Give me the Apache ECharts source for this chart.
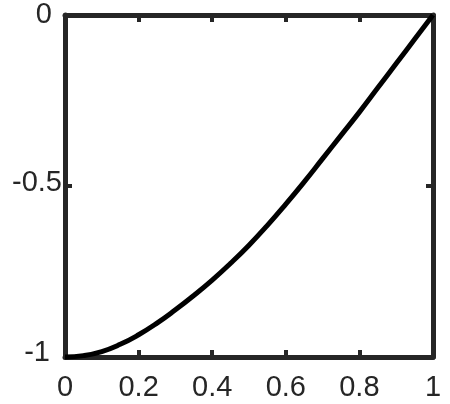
<!DOCTYPE html>
<html>
<head>
<meta charset="utf-8">
<script src="https://cdn.jsdelivr.net/npm/echarts@6/dist/echarts.min.js"></script>
<style>
	html, body { margin: 0; padding: 0; background: #fff; }
	#chart { width: 450px; height: 404px; }
</style>
</head>
<body>
<div id="chart"></div>
<script>
// values
var xs = [0, 0.05, 0.1, 0.15, 0.2, 0.25, 0.3, 0.35, 0.4, 0.45, 0.5,
	0.55, 0.6, 0.65, 0.7, 0.75, 0.8, 0.85, 0.9, 0.95, 1]
var ys = [-1, -0.996, -0.984, -0.963, -0.935, -0.901, -0.862, -0.82, -0.775, -0.726, -0.673,
	-0.615, -0.553, -0.488, -0.42, -0.352, -0.284, -0.213, -0.142, -0.071, 0]
var xTicks = [0, 0.2, 0.4, 0.6, 0.8, 1]
var yTicks = [-1, -0.5, 0]

var boxColor = '#262626'
var fontFam = '"Liberation Sans", Arial, sans-serif'
var fs = 29

var points = []
for (var i = 0; i < xs.length; i++) {
	points.push([xs[i], ys[i]])
}

// 四边框 + 内刻度
function boxAxis(extra) {
	var base = {
		type: 'value',
		axisLine: { show: true, onZero: false, lineStyle: { color: boxColor, width: 5 } },
		axisTick: { show: true, inside: true, length: 7, lineStyle: { color: boxColor, width: 4 } },
		splitLine: { show: false }
	}
	return Object.assign(base, extra)
}

var chart = echarts.init(document.getElementById('chart'))
chart.setOption({
	animation: false,
	grid: { left: 65, right: 17, top: 15, bottom: 47, containLabel: false },
	xAxis: [
		boxAxis({
			position: 'bottom', min: 0, max: 1, interval: 0.2,
			axisLabel: {
				margin: 16, color: boxColor, fontSize: fs, fontFamily: fontFam,
				formatter: function(v) { return xTicks.indexOf(+v.toFixed(1)) >= 0 ? String(+v.toFixed(1)) : '' }
			}
		}),
		boxAxis({ position: 'top', min: 0, max: 1, interval: 0.2, axisLabel: { show: false } })
	],
	yAxis: [
		boxAxis({
			position: 'left', min: -1, max: 0, interval: 0.5,
			axisLabel: {
				margin: 3, color: boxColor, fontSize: fs, fontFamily: fontFam,
				formatter: function(v) {
					if (v === 0) return '{a|0}'
					if (v === -1) return '{b|-1}'
					return '{c|' + v + '}'
				},
				rich: {
					a: { fontSize: fs, fontFamily: fontFam, color: boxColor, padding: [0, 10, 0, 0] },
					b: { fontSize: fs, fontFamily: fontFam, color: boxColor, padding: [0, 12, 8, 0] },
					c: { fontSize: fs, fontFamily: fontFam, color: boxColor, padding: [0, 0, 6, 0] }
				}
			}
		}),
		boxAxis({ position: 'right', min: -1, max: 0, interval: 0.5, axisLabel: { show: false } })
	],
	series: [{
		type: 'line',
		data: points,
		smooth: true,
		showSymbol: false,
		clip: false,
		lineStyle: { color: '#000', width: 5 }
	}]
})
</script>
</body>
</html>
